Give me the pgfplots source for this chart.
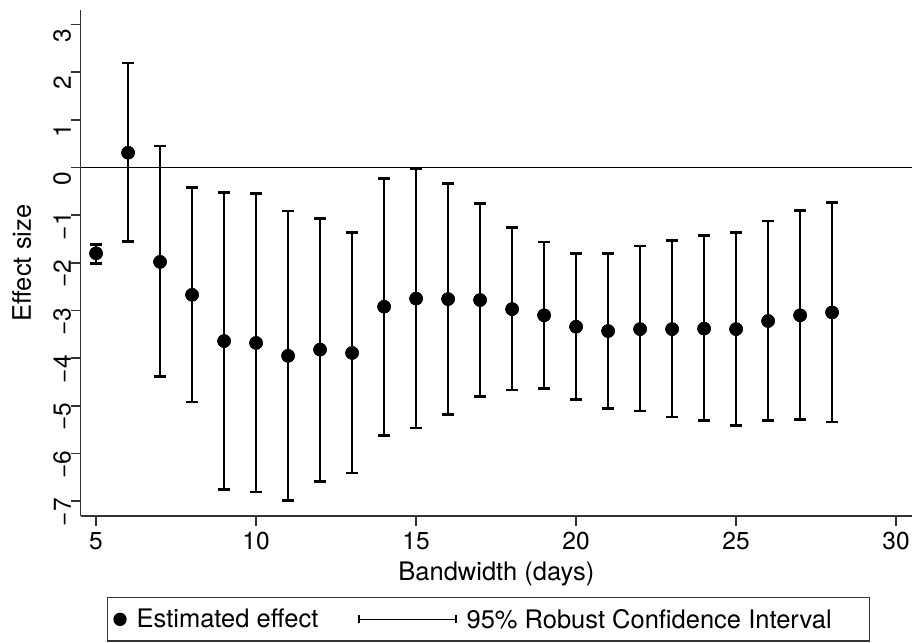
\documentclass[border=0pt]{standalone}
\usepackage{fontspec}
\setmainfont{TeX Gyre Heros}
\usepackage{pgfplots}
\usepackage{pgfplotstable}
\pgfplotsset{compat=1.18}

% bandwidth, point estimate, lower and upper 95% robust CI bounds
\pgfplotstableread{
bw  est    lo     hi
5   -1.80  -2.01  -1.61
6    0.31  -1.55   2.19
7   -1.98  -4.38   0.45
8   -2.67  -4.92  -0.42
9   -3.64  -6.75  -0.52
10  -3.68  -6.81  -0.55
11  -3.95  -6.99  -0.91
12  -3.82  -6.58  -1.07
13  -3.89  -6.41  -1.36
14  -2.92  -5.62  -0.23
15  -2.75  -5.46  -0.02
16  -2.76  -5.18  -0.34
17  -2.78  -4.80  -0.76
18  -2.97  -4.67  -1.26
19  -3.10  -4.64  -1.56
20  -3.34  -4.87  -1.80
21  -3.43  -5.06  -1.80
22  -3.39  -5.11  -1.65
23  -3.39  -5.23  -1.53
24  -3.38  -5.31  -1.43
25  -3.39  -5.41  -1.36
26  -3.22  -5.31  -1.12
27  -3.10  -5.29  -0.90
28  -3.04  -5.34  -0.73
}\rdtable

\begin{document}
\begin{tikzpicture}
\begin{axis}[
  name=ax,
  scale only axis,
  width=831.4bp, height=505.8bp,
  xmin=4.52, xmax=30.5, ymin=-7.31, ymax=3.30,
  axis x line*=bottom, axis y line*=left,
  axis line style={black!80, line width=1.5bp},
  tick style={black!80, line width=1.5bp},
  tick align=outside,
  major tick length=9.5bp,
  xtick={5,10,...,30},
  ytick={-7,-6,...,3},
  yticklabels={−7,−6,−5,−4,−3,−2,−1,0,1,2,3},
  /pgf/number format/assume math mode=true,
  tick label style={font=\fontsize{24.5bp}{28bp}\selectfont},
  xticklabel style={anchor=north, inner sep=0pt, yshift=-6.5bp},
  yticklabel style={rotate=90, anchor=south, inner sep=0pt, xshift=-11bp},
  xlabel={Bandwidth (days)},
  ylabel={Effect size},
  label style={font=\fontsize{25.5bp}{30bp}\selectfont},
  xlabel style={at={(axis description cs:0.5,-0.091)}, anchor=north, inner sep=0pt},
  ylabel style={at={(axis description cs:-0.0826,0.5)}, anchor=north, inner sep=0pt},
  legend columns=2,
  legend cell align=left,
  legend style={
    at={(0.0313,-0.160)}, anchor=north west,
    draw=black!80, line width=1.3bp,
    font=\fontsize{25.5bp}{30bp}\selectfont,
    inner xsep=6bp, inner ysep=9.5bp,
    /tikz/every odd column/.append style={column sep=8bp},
    /tikz/every even column/.append style={column sep=38bp},
  },
]
  % zero reference line
  \addplot[black, line width=1.3bp, forget plot] coordinates {(4.52,0) (30.5,0)};

  % point estimates (legend entry)
  \addplot[black, only marks, mark=*, mark size=6.5bp,
    legend image code/.code={\fill[black] (6bp,0bp) circle (6bp);}]
    table[x=bw, y=est] {\rdtable};
  \addlegendentry{Estimated effect}

  % confidence intervals
  \addplot[black, only marks, mark=none,
    legend image code/.code={
      \draw[line width=1.2bp] (0bp,0bp) -- (97bp,0bp);
      \draw[line width=1.2bp] (0bp,-4bp) -- (0bp,4bp);
      \draw[line width=1.2bp] (97bp,-4bp) -- (97bp,4bp);
    },
    error bars/.cd, y dir=both, y explicit,
    error mark=|,
    error bar style={line width=2.6bp, black},
    error mark options={line width=2.6bp, mark size=6bp, black}]
    table[x=bw, y=est,
      y error plus expr=\thisrow{hi}-\thisrow{est},
      y error minus expr=\thisrow{est}-\thisrow{lo}] {\rdtable};
  \addlegendentry{95\% Robust Confidence Interval\hspace*{30bp}}

  % markers redrawn above the interval lines
  \addplot[black, only marks, mark=*, mark size=6.5bp, forget plot]
    table[x=bw, y=est] {\rdtable};
\end{axis}
\pgfresetboundingbox
\path ([xshift=-80.7bp,yshift=-127bp]ax.south west) rectangle ([xshift=831.3bp,yshift=516bp]ax.south west);
\end{tikzpicture}
\end{document}
